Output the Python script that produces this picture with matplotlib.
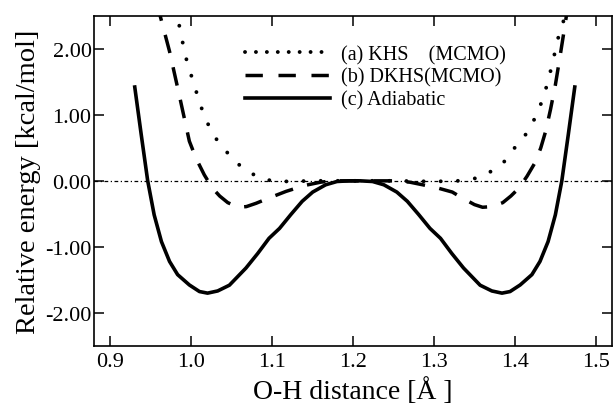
import numpy as np
import matplotlib
matplotlib.use("Agg")
import matplotlib.pyplot as plt
from matplotlib.lines import Line2D

plt.rcParams["font.family"] = ["Liberation Serif", "DejaVu Serif"]
plt.rcParams["axes.unicode_minus"] = False

# (a) KHS (MCMO)
khs_x = [0.980, 0.982, 0.987, 0.991, 0.9955, 1.0016, 1.0078, 1.014, 1.022, 1.0325,
         1.047, 1.061, 1.072, 1.085, 1.100, 1.12, 1.15, 1.20, 1.25, 1.30, 1.33,
         1.345, 1.358, 1.370, 1.3877, 1.4009, 1.4132, 1.4235, 1.4317, 1.438,
         1.444, 1.448, 1.452, 1.4576, 1.4605, 1.463]
khs_y = [2.60, 2.52, 2.24, 1.98, 1.76, 1.53, 1.28, 1.05, 0.82, 0.60,
         0.39, 0.22, 0.13, 0.04, 0.0, -0.01, 0.0, 0.0, 0.0, -0.01, 0.0,
         0.02, 0.06, 0.14, 0.30, 0.52, 0.70, 0.92, 1.15, 1.38,
         1.66, 1.86, 2.11, 2.31, 2.44, 2.60]

# (b) DKHS (MCMO)
dkhs_x = [0.958, 0.9605, 0.973, 0.985, 0.9975, 1.0058, 1.016, 1.026, 1.035, 1.045,
          1.058, 1.068, 1.080, 1.096, 1.117, 1.140, 1.160, 1.175, 1.200, 1.230,
          1.250, 1.270, 1.286, 1.305, 1.3226, 1.335, 1.350, 1.360, 1.372,
          1.385, 1.395, 1.405, 1.415, 1.4256, 1.432, 1.438, 1.444, 1.450,
          1.456, 1.4626, 1.466]
dkhs_y = [2.70, 2.54, 1.96, 1.30, 0.60, 0.34, 0.09, -0.11, -0.23, -0.33,
          -0.40, -0.39, -0.34, -0.26, -0.16, -0.07, -0.02, 0.0, 0.0, 0.0,
          0.0, -0.02, -0.06, -0.11, -0.17, -0.26, -0.36, -0.40, -0.39,
          -0.33, -0.23, -0.11, 0.07, 0.29, 0.50, 0.75, 1.08, 1.45,
          1.90, 2.41, 2.70]

# (c) Adiabatic
adia_x = [0.930, 0.938, 0.946, 0.954, 0.963, 0.973, 0.983, 0.9975, 1.010, 1.020,
          1.0325, 1.047, 1.0675, 1.082, 1.096, 1.109, 1.123, 1.137, 1.150, 1.166,
          1.180, 1.195, 1.209, 1.224, 1.238, 1.254, 1.267, 1.281, 1.295, 1.308,
          1.322, 1.3365, 1.357, 1.3715, 1.384, 1.394, 1.4065, 1.421, 1.431,
          1.441, 1.450, 1.458, 1.466, 1.474]
adia_y = [1.42, 0.70, 0.0, -0.515, -0.92, -1.22, -1.42, -1.576, -1.676, -1.70,
          -1.667, -1.58, -1.32, -1.10, -0.87, -0.72, -0.51, -0.31, -0.17, -0.06,
          -0.01, 0.0, 0.0, -0.01, -0.06, -0.17, -0.31, -0.51, -0.72, -0.87,
          -1.10, -1.32, -1.58, -1.667, -1.70, -1.676, -1.576, -1.42, -1.22,
          -0.92, -0.515, 0.0, 0.70, 1.42]

labels = ["(a) KHS\u2003(MCMO)", "(b) DKHS(MCMO)", "(c) Adiabatic"]
xticks = [0.9, 1.0, 1.1, 1.2, 1.3, 1.4, 1.5]
yticks = [-2, -1, 0, 1, 2]

fig = plt.figure(figsize=(6.14, 4.10), dpi=100)
ax = fig.add_axes([0.1536, 0.1537, 0.8431, 0.8056])

ax.axhline(0, color="black", lw=0.9, ls=(0, (3, 2, 1, 2)))
ax.plot(khs_x, khs_y, color="black", lw=2.8, ls=(0, (0.01, 4.4)),
        dash_capstyle="round")
ax.plot(dkhs_x, dkhs_y, color="black", lw=2.5, ls=(0, (5.4, 4.2)),
        dash_capstyle="butt")
ax.plot(adia_x, adia_y, color="black", lw=2.6, solid_joinstyle="round")

ax.set_xlim(0.88, 1.52)
ax.set_ylim(-2.5, 2.5)
ax.set_xticks(xticks)
ax.set_xticklabels([f"{t:.1f}" for t in xticks])
ax.set_yticks(yticks)
ax.set_yticklabels([f"{t:.2f}" for t in yticks])
ax.tick_params(direction="in", top=True, right=True, length=7, width=1.1,
               labelsize=16)
ax.tick_params(axis="y", pad=2)
ax.tick_params(axis="x", pad=4)
for s in ax.spines.values():
    s.set_linewidth(1.2)

ax.set_xlabel("O-H distance [Å ]", fontsize=20, labelpad=5)
ax.set_ylabel("Relative energy [kcal/mol]", fontsize=20.5, labelpad=3)

handles = [
    Line2D([], [], color="black", lw=2.8, ls=(0, (0.01, 2.8)), dash_capstyle="round"),
    Line2D([], [], color="black", lw=2.5, ls=(0, (5.0, 4.5)), dash_capstyle="butt"),
    Line2D([], [], color="black", lw=2.6),
]
ax.legend(handles, labels, loc="upper left", bbox_to_anchor=(0.291, 0.912),
          frameon=False, fontsize=14.5, handlelength=4.2, handletextpad=0.55,
          labelspacing=0.18, borderpad=0, borderaxespad=0)

fig.savefig("out.png", dpi=100)
